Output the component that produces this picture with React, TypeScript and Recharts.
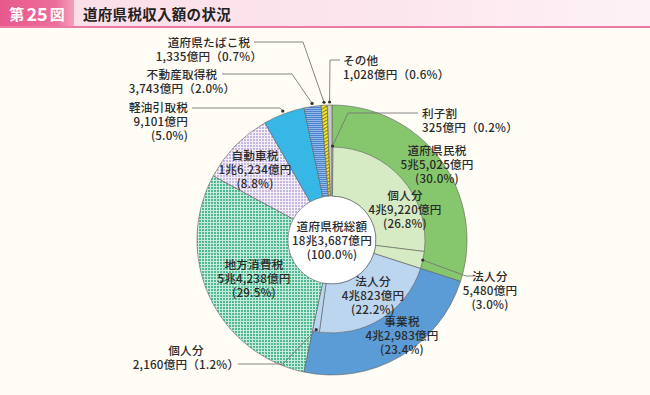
import React from 'react';
import { PieChart, Pie, Cell } from 'recharts';

// ---- data (億円) ----
const OUTER_IDS = ['kenmin', 'jigyo', 'chiho', 'jidosha', 'keiyu', 'fudosan', 'tabako', 'sonota'];
const OUTER_NAMES = ['道府県民税', '事業税', '地方消費税', '自動車税', '軽油引取税', '不動産取得税', '道府県たばこ税', 'その他'];
const OUTER_VALUES = [55025, 42983, 54238, 16234, 9101, 3743, 1335, 1028];

const INNER_IDS = ['rishi', 'kenKojin', 'kenHojin', 'jigHojin', 'jigKojin'];
const INNER_NAMES = ['利子割', '個人分', '法人分', '法人分', '個人分'];
const INNER_VALUES = [325, 49220, 5480, 40823, 2160];

const CENTER_NAME = '道府県税総額';
const TOTAL = OUTER_VALUES.reduce((a, b) => a + b, 0);

// ---- styles ----
const FILLS: Record<string, string> = {
  kenmin: '#86c66c',
  jigyo: '#5b9bd6',
  chiho: 'url(#pChiho)',
  jidosha: 'url(#pJidosha)',
  keiyu: '#36b7e6',
  fudosan: 'url(#pFudosan)',
  tabako: 'url(#pTabako)',
  sonota: '#cacaca',
  rishi: '#d6ebc4',
  kenKojin: '#d6ebc4',
  kenHojin: '#d6ebc4',
  jigHojin: '#bdd6f0',
  jigKojin: '#bdd6f0',
};

type Layout = {
  x: number;
  y: number; // vertical centre of the text block
  anchor: 'start' | 'middle' | 'end';
  mode: 'three' | 'two';
  lead?: { start: [number, number]; elbow: [number, number]; dr: number };
};

const LAYOUT: Record<string, Layout> = {
  kenmin: { x: 437, y: 163.5, anchor: 'middle', mode: 'three' },
  jigyo: { x: 402, y: 335, anchor: 'middle', mode: 'three' },
  chiho: { x: 254, y: 278, anchor: 'middle', mode: 'three' },
  jidosha: { x: 255, y: 168.5, anchor: 'middle', mode: 'three' },
  keiyu: { x: 188, y: 121, anchor: 'end', mode: 'three', lead: { start: [192, 108], elbow: [280, 108], dr: 3 } },
  fudosan: { x: 182, y: 81, anchor: 'middle', mode: 'two', lead: { start: [222, 74], elbow: [292, 74], dr: 3 } },
  tabako: { x: 209, y: 49, anchor: 'middle', mode: 'two', lead: { start: [254, 42], elbow: [303, 42], dr: 3 } },
  sonota: { x: 343, y: 66.5, anchor: 'start', mode: 'two', lead: { start: [340, 60], elbow: [330, 60], dr: 3 } },
  rishi: { x: 422, y: 119.5, anchor: 'start', mode: 'two', lead: { start: [418, 113], elbow: [348, 113], dr: 1 } },
  kenKojin: { x: 405, y: 208.5, anchor: 'middle', mode: 'three' },
  kenHojin: { x: 490, y: 290, anchor: 'middle', mode: 'three', lead: { start: [474, 276], elbow: [466, 276], dr: 0 } },
  jigHojin: { x: 373, y: 295, anchor: 'middle', mode: 'three' },
  jigKojin: { x: 186, y: 357, anchor: 'middle', mode: 'two', lead: { start: [238, 364], elbow: [283, 364], dr: -2 } },
};

const LINE_H = 14;
const FONT_SIZE = 11.6;
const FONT = '"Noto Sans CJK JP", "Noto Sans", sans-serif';
const RAD = Math.PI / 180;

function fmtComma(n: number): string {
  const s = String(n);
  return s.replace(/\B(?=(\d{3})+(?!\d))/g, ',');
}
function fmtOku(v: number): string {
  if (v >= 10000) {
    const cho = Math.floor(v / 10000);
    const rest = v % 10000;
    return `${cho}兆${fmtComma(rest)}億円`;
  }
  return `${fmtComma(v)}億円`;
}
function fmtPct(v: number): string {
  return ((v / TOTAL) * 100).toFixed(1);
}

const outerData = OUTER_IDS.map((id, i) => ({ id, name: OUTER_NAMES[i], value: OUTER_VALUES[i], show: true }));
const innerData = [
  ...INNER_IDS.map((id, i) => ({ id, name: INNER_NAMES[i], value: INNER_VALUES[i], show: true })),
  ...OUTER_IDS.slice(2).map((id, i) => ({ id: id + '_fill', name: OUTER_NAMES[i + 2], value: OUTER_VALUES[i + 2], show: false })),
];
const centerData = [{ id: 'center', name: CENTER_NAME, value: TOTAL }];

function TextBlock({ x, y, anchor, lines }: { x: number; y: number; anchor: string; lines: string[] }) {
  const y0 = y - ((lines.length - 1) / 2) * LINE_H;
  return (
    <text
      x={x}
      y={y0}
      textAnchor={anchor as any}
      dominantBaseline="central"
      fontSize={FONT_SIZE}
      fontWeight={500}
      letterSpacing={0.2}
      fill="#2a2a2a"
      fontFamily={FONT}
    >
      {lines.map((t, i) => (
        <tspan key={i} x={x} y={y0 + i * LINE_H}>
          {t}
        </tspan>
      ))}
    </text>
  );
}

function renderLabel(props: any) {
  const { cx, cy, midAngle, outerRadius, payload } = props;
  const p = payload && payload.payload ? payload.payload : payload;
  const id: string = p?.id ?? props.id;
  const lay = LAYOUT[id];
  if (!lay) return <g />;
  const name: string = p.name;
  const value: number = p.value;
  const pct = fmtPct(value);
  const lines =
    lay.mode === 'three'
      ? [name, fmtOku(value), `(${pct}%)`]
      : [name, `${fmtOku(value)}（${pct}%）`];
  let lead = null;
  if (lay.lead) {
    const r = outerRadius + lay.lead.dr;
    const ex = cx + r * Math.cos(-midAngle * RAD);
    const ey = cy + r * Math.sin(-midAngle * RAD);
    const [sx, sy] = lay.lead.start;
    const [bx, by] = lay.lead.elbow;
    lead = (
      <g>
        <polyline points={`${sx},${sy} ${bx},${by} ${ex},${ey}`} fill="none" stroke="#777" strokeWidth={0.9} />
        <circle cx={ex} cy={ey} r={1.6} fill="#333" />
      </g>
    );
  }
  return (
    <g>
      {lead}
      <TextBlock x={lay.x} y={lay.y} anchor={lay.anchor} lines={lines} />
    </g>
  );
}

function renderCenterLabel(props: any) {
  const { cx, cy } = props;
  return <TextBlock x={cx} y={cy} anchor="middle" lines={[CENTER_NAME, fmtOku(TOTAL), '(100.0%)']} />;
}

const CX = 332;
const CY = 240;

export default function App() {
  return (
    <div
      style={{
        position: 'absolute',
        left: 0,
        top: 0,
        width: 650,
        height: 395,
        background: '#fffdf6',
        overflow: 'hidden',
        fontFamily: FONT,
      }}
    >
      <div
        style={{
          position: 'absolute',
          left: 0,
          top: 0,
          width: 650,
          height: 26,
          background: 'linear-gradient(90deg, #fbdde7 0%, #fce6ed 60%, #fdf2f5 100%)',
          borderBottom: '2px solid #ec7aa2',
        }}
      />
      <div
        style={{
          position: 'absolute',
          left: 0,
          top: 0,
          width: 74,
          height: 26,
          background: 'linear-gradient(90deg, #e8588c 0%, #ec6d9a 75%, #f4a0bd 100%)',
          color: '#fff',
          fontWeight: 700,
          display: 'flex',
          alignItems: 'center',
          justifyContent: 'center',
          lineHeight: 1,
        }}
      >
        <span style={{ fontSize: 15 }}>第</span>
        <span style={{ fontSize: 18, margin: '0 2px' }}>25</span>
        <span style={{ fontSize: 15 }}>図</span>
      </div>
      <div
        style={{
          position: 'absolute',
          left: 83,
          top: 0,
          height: 26,
          display: 'flex',
          alignItems: 'center',
          fontSize: 14.5,
          fontWeight: 700,
          color: '#222',
          letterSpacing: 0.3,
        }}
      >
        道府県税収入額の状況
      </div>
      <div style={{ position: 'absolute', left: 0, top: 0 }}>
        <PieChart width={650} height={395} margin={{ top: 0, right: 0, bottom: 0, left: 0 }}>
          <defs>
            <pattern id="pChiho" width="3" height="3" patternUnits="userSpaceOnUse">
              <rect width="3" height="3" fill="#4fb791" />
              <path d="M0 0.5H3M0.5 0V3" stroke="#c8ecdc" strokeWidth="1" />
            </pattern>
            <pattern id="pJidosha" width="3" height="3" patternUnits="userSpaceOnUse">
              <rect width="3" height="3" fill="#c6b8e0" />
              <path d="M0 0.5H3M0.5 0V3" stroke="#f3eff9" strokeWidth="1" />
            </pattern>
            <pattern id="pFudosan" width="4" height="2" patternUnits="userSpaceOnUse">
              <rect width="4" height="2" fill="#4d84cf" />
              <path d="M0 0.5H4" stroke="#93b8e8" strokeWidth="1" />
            </pattern>
            <pattern id="pTabako" width="3" height="3" patternUnits="userSpaceOnUse" patternTransform="rotate(-30)">
              <rect width="3" height="3" fill="#f3e81a" />
              <path d="M0 0.5H3" stroke="#7f7f3a" strokeWidth="1" />
            </pattern>
          </defs>
          <Pie
            data={centerData}
            dataKey="value"
            cx={CX}
            cy={CY}
            innerRadius={0}
            outerRadius={44}
            startAngle={90}
            endAngle={-270}
            stroke="none"
            fill="#ffffff"
            isAnimationActive={false}
            label={renderCenterLabel}
            labelLine={false}
          />
          <Pie
            data={outerData}
            dataKey="value"
            cx={CX}
            cy={CY}
            innerRadius={44}
            outerRadius={135}
            startAngle={90}
            endAngle={-270}
            isAnimationActive={false}
            label={renderLabel}
            labelLine={false}
          >
            {outerData.map((d) => (
              <Cell key={d.id} fill={FILLS[d.id]} stroke="#5f5f5f" strokeWidth={0.6} />
            ))}
          </Pie>
          <Pie
            data={innerData}
            dataKey="value"
            cx={CX}
            cy={CY}
            innerRadius={44}
            outerRadius={93}
            startAngle={90}
            endAngle={-270}
            isAnimationActive={false}
            label={renderLabel}
            labelLine={false}
          >
            {innerData.map((d) => (
              <Cell
                key={d.id}
                fill={d.show ? FILLS[d.id] : 'transparent'}
                stroke={d.show ? '#5f5f5f' : 'none'}
                strokeWidth={0.6}
              />
            ))}
          </Pie>
        </PieChart>
      </div>
    </div>
  );
}
